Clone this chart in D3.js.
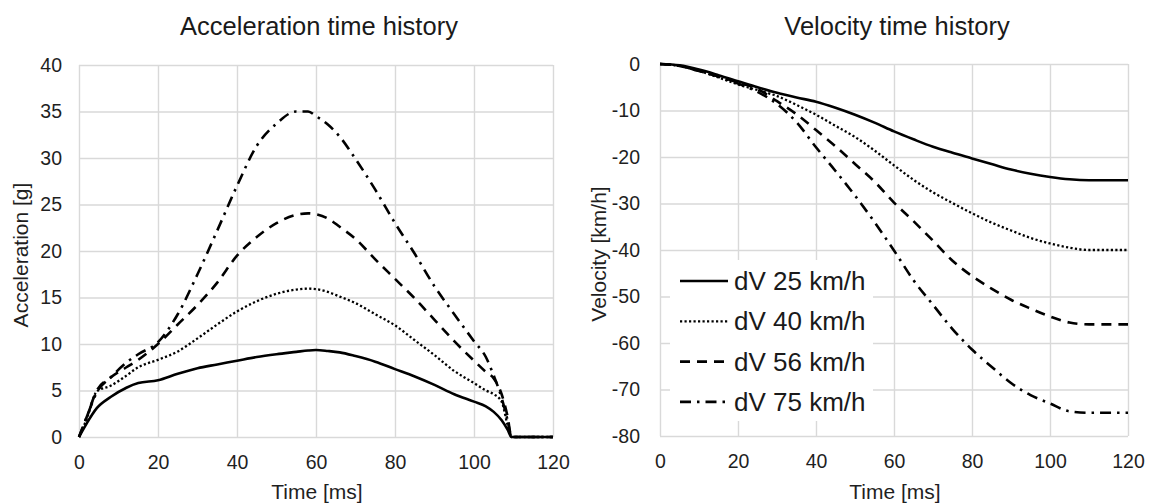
<!DOCTYPE html>
<html>
<head>
<meta charset="utf-8">
<script src="https://cdn.jsdelivr.net/npm/d3@7"></script>
<style>
  body { margin: 0; background: #fff; }
  svg { font-family: "Liberation Sans", Arial, sans-serif; }
</style>
</head>
<body>
<svg id="chart" width="1149" height="504"></svg>
<script>
/* data */
const seriesNames = ["dV 25 km/h", "dV 40 km/h", "dV 56 km/h", "dV 75 km/h"]

const accTime = [0, 2, 4.5, 8, 12, 15, 20, 25, 30, 35, 40, 45, 50, 55, 58, 60, 63, 66, 70, 75, 80, 85, 90, 95, 100, 103, 105, 107, 108.5, 109.5, 120]
const accDv25 = [0, 1.5, 3.1, 4.3, 5.3, 5.8, 6.1, 6.8, 7.4, 7.8, 8.2, 8.6, 8.9, 9.15, 9.3, 9.35, 9.25, 9.1, 8.7, 8.1, 7.3, 6.5, 5.6, 4.6, 3.8, 3.3, 2.7, 1.8, 0.8, 0, 0]
const accDv40 = [0, 2, 4.9, 5.5, 6.6, 7.5, 8.3, 9.2, 10.6, 12.1, 13.5, 14.6, 15.4, 15.85, 15.95, 15.9, 15.6, 15.1, 14.4, 13.2, 12.0, 10.4, 8.8, 7.1, 5.8, 5.0, 4.6, 3.8, 1.3, 0, 0]
const accDv56 = [0, 2.2, 5.0, 6.4, 7.5, 8.3, 10.0, 12.1, 14.2, 16.6, 19.5, 21.5, 23.0, 23.9, 24.05, 23.95, 23.5, 22.6, 21.3, 19.1, 17.0, 14.9, 12.6, 10.3, 8.2, 7.0, 6.3, 4.6, 2.2, 0, 0]
const accDv75 = [0, 2.2, 4.8, 6.4, 8.0, 8.9, 10.2, 13.2, 17.5, 22.2, 27.0, 31.3, 33.7, 35.0, 35.0, 34.5, 33.6, 32.3, 29.9, 26.6, 23.0, 19.7, 16.2, 13.2, 10.3, 8.6, 6.6, 4.2, 1.8, 0, 0]

const velTime = [0, 5, 10, 15, 20, 25, 30, 35, 40, 45, 50, 55, 60, 65, 70, 75, 80, 85, 90, 95, 100, 105, 110, 120]
const velDv25 = [0, -0.3, -1.2, -2.4, -3.7, -5.0, -6.2, -7.2, -8.1, -9.4, -10.9, -12.6, -14.5, -16.2, -17.8, -19.1, -20.3, -21.5, -22.7, -23.6, -24.3, -24.8, -25, -25]
const velDv40 = [0, -0.4, -1.5, -2.9, -4.4, -5.6, -6.9, -8.8, -10.9, -13.3, -15.7, -18.6, -21.8, -24.9, -27.6, -29.9, -32.1, -34.1, -35.8, -37.4, -38.6, -39.5, -40, -40]
const velDv56 = [0, -0.4, -1.5, -2.7, -4.0, -5.4, -8.0, -10.8, -14.2, -17.7, -21.5, -25.3, -29.8, -33.8, -38.0, -42.3, -45.6, -48.3, -50.7, -52.6, -54.3, -55.6, -56, -56]
const velDv75 = [0, -0.4, -1.5, -2.7, -4.2, -6.0, -8.6, -12.5, -17.9, -23.0, -28.3, -34.0, -40.1, -46.5, -51.8, -57.0, -61.4, -65.1, -68.6, -71.2, -73.0, -74.7, -75, -75]

const timeTicks = [0, 20, 40, 60, 80, 100, 120]
const accTicks = [0, 5, 10, 15, 20, 25, 30, 35, 40]
const velTicks = [0, -10, -20, -30, -40, -50, -60, -70, -80]

/* line look per series */
const dashes = [null, "2.2 2.3", "10 7", "11 6 2.5 6"]
const widths = [2.6, 2.3, 2.6, 2.6]

const svg = d3.select("#chart")

function panel(o) {
    const x = d3.scaleLinear().domain([0, 120]).range([o.left, o.right])
    const y = d3.scaleLinear().domain(o.yDomain).range([o.bottom, o.top])
    const g = svg.append("g")

    const gx = g.append("g")
        .attr("transform", "translate(0," + o.bottom + ")")
        .call(d3.axisBottom(x).tickValues(timeTicks).tickSize(-(o.bottom - o.top)).tickPadding(18))
    const gy = g.append("g")
        .attr("transform", "translate(" + o.left + ",0)")
        .call(d3.axisLeft(y).tickValues(o.yTicks).tickSize(-(o.right - o.left))
            .tickPadding(o.yPad).tickFormat(d => String(d)))

    ;[gx, gy].forEach(a => {
        a.select(".domain").remove()
        a.selectAll("line").attr("stroke", "#d9d9d9").attr("stroke-width", 1.4)
        a.selectAll("text").attr("font-size", 19.5).attr("fill", "#1f1f1f")
            .attr("font-family", "Liberation Sans, Arial, sans-serif")
    })

    const line = d3.line()
        .x((d, i) => x(o.time[i]))
        .y(d => y(d))
        .curve(d3.curveMonotoneX)

    o.series.forEach((s, i) => {
        g.append("path")
            .attr("d", line(s))
            .attr("fill", "none")
            .attr("stroke", "#000")
            .attr("stroke-width", widths[i])
            .attr("stroke-dasharray", dashes[i])
    })

    g.append("text")
        .attr("x", (o.left + o.right) / 2 + 3)
        .attr("y", 35)
        .attr("text-anchor", "middle")
        .attr("font-size", 25.5)
        .attr("fill", "#1a1a1a")
        .text(o.title)

    g.append("text")
        .attr("x", (o.left + o.right) / 2 + 1)
        .attr("y", 499)
        .attr("text-anchor", "middle")
        .attr("font-size", 21)
        .attr("fill", "#1f1f1f")
        .text("Time [ms]")

    g.append("text")
        .attr("transform", "translate(" + o.yTitleX + "," + ((o.top + o.bottom) / 2 + 4) + ") rotate(-90)")
        .attr("text-anchor", "middle")
        .attr("font-size", 21)
        .attr("fill", "#1f1f1f")
        .text(o.yTitle)

    return { x, y, g }
}

panel({
    left: 79, right: 553, top: 65, bottom: 437,
    yDomain: [0, 40], yTicks: accTicks, yPad: 17,
    time: accTime, series: [accDv25, accDv40, accDv56, accDv75],
    title: "Acceleration time history", yTitle: "Acceleration [g]", yTitleX: 28
})

const vel = panel({
    left: 660, right: 1128, top: 64, bottom: 436,
    yDomain: [-80, 0], yTicks: velTicks, yPad: 20,
    time: velTime, series: [velDv25, velDv40, velDv56, velDv75],
    title: "Velocity time history", yTitle: "Velocity [km/h]", yTitleX: 606
})

/* legend */
const legend = vel.g.append("g")
legend.append("rect")
    .attr("x", 670).attr("y", 260)
    .attr("width", 203).attr("height", 161)
    .attr("fill", "#fff")

const item = legend.selectAll("g.item")
    .data(seriesNames)
    .enter()
    .append("g")
    .attr("transform", (d, i) => "translate(0," + (281 + i * 40.3) + ")")

item.append("line")
    .attr("x1", 680).attr("x2", 728)
    .attr("stroke", "#000")
    .attr("stroke-width", (d, i) => widths[i])
    .attr("stroke-dasharray", (d, i) => dashes[i])

item.append("text")
    .attr("x", 734)
    .attr("dy", ".35em")
    .attr("font-size", 26)
    .attr("fill", "#1a1a1a")
    .text(d => d)
</script>
</body>
</html>
